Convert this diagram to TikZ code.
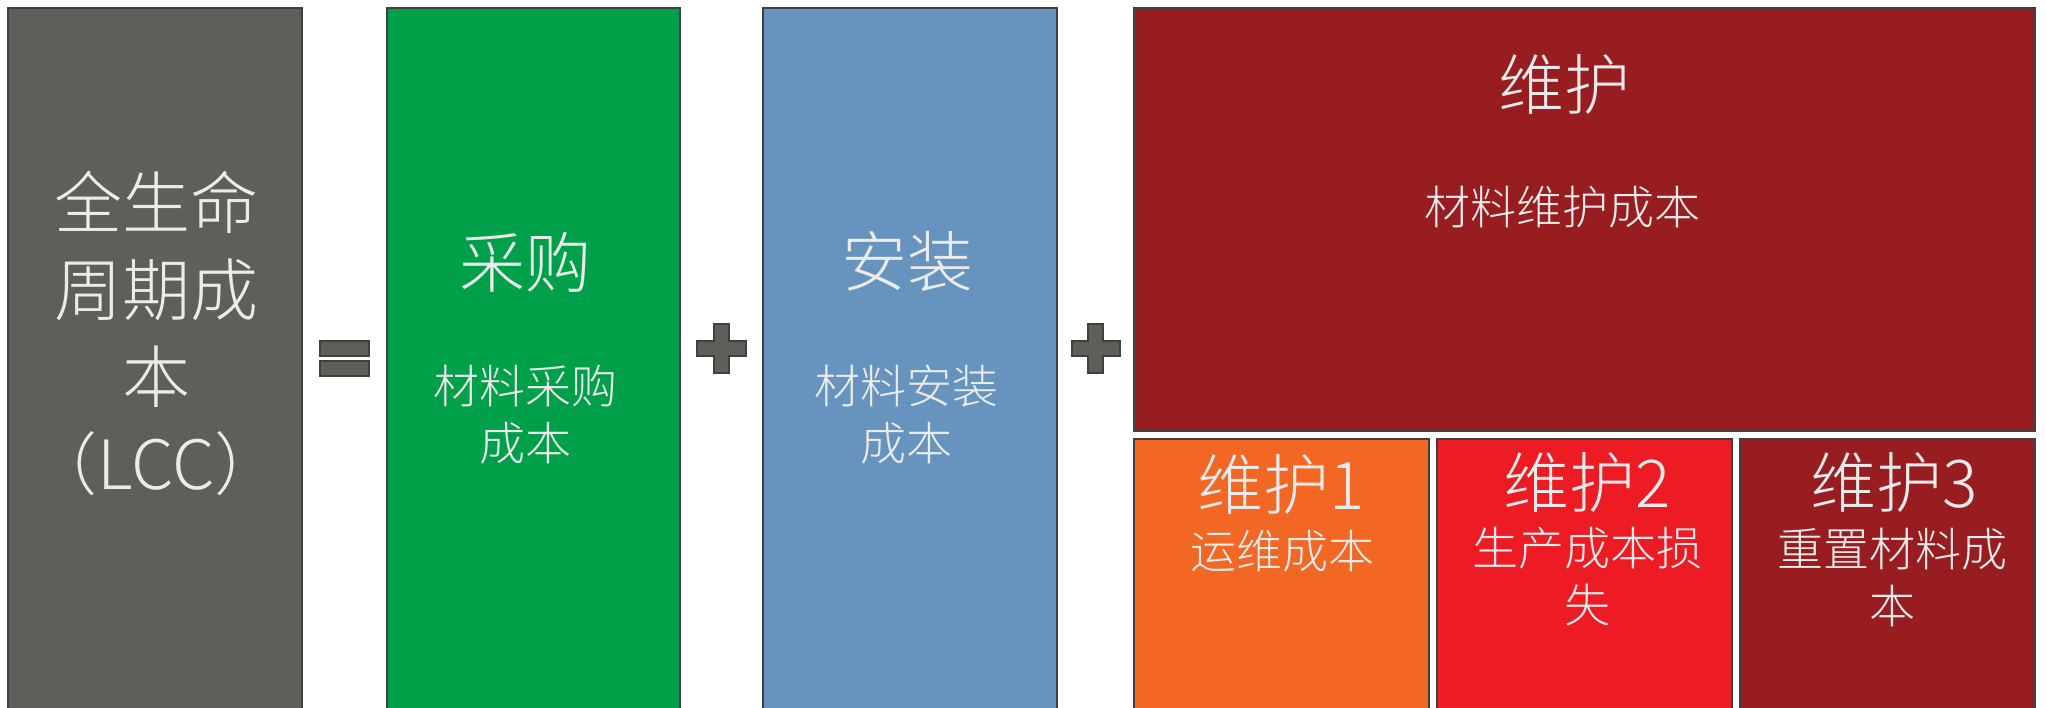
\documentclass[tikz,border=0pt]{standalone}
\usepackage{fontspec}
\IfFontExistsTF{Noto Sans CJK SC Light}{\setmainfont{Noto Sans CJK SC Light}}{\setmainfont{Noto Sans CJK SC}}
\definecolor{edge}{HTML}{404040}
\definecolor{cgray}{HTML}{5F5F5A}
\definecolor{cgreen}{HTML}{00A04B}
\definecolor{cblue}{HTML}{6794BE}
\definecolor{cdred}{HTML}{981D20}
\definecolor{corange}{HTML}{F26724}
\definecolor{cred}{HTML}{ED1C24}
\definecolor{ctext}{HTML}{EBEBEB}
\tikzset{
  box/.style={draw=edge, line width=2pt, inner sep=0pt, outer sep=0pt, anchor=north west},
  opbox/.style={draw=edge, line width=2pt, fill=cgray},
  txt/.style={text=ctext, inner sep=0pt, align=center},
  bigtxt/.style={txt, font=\fontsize{68}{87}\selectfont},
  titletxt/.style={txt, font=\fontsize{66}{80}\selectfont},
  subtxt/.style={txt, font=\fontsize{46}{57}\selectfont}
}
\begin{document}
\begin{tikzpicture}[x=1pt,y=-1pt]
\useasboundingbox (0,0) rectangle (2046,707);
\begin{scope}
\clip (0,0) rectangle (2046,707);
\node[box, fill=cgray, minimum width=294pt, minimum height=730pt] (lcc) at (8,8) {};
\node[box, fill=cgreen, minimum width=293pt, minimum height=730pt] (buy) at (387,8) {};
\node[box, fill=cblue, minimum width=294pt, minimum height=730pt] (inst) at (763,8) {};
\node[box, fill=cdred, minimum width=901pt, minimum height=423pt] (mnt) at (1134,8) {};
\node[box, fill=corange, minimum width=295pt, minimum height=300pt] (m1) at (1134,439) {};
\node[box, fill=cred, minimum width=295pt, minimum height=300pt] (m2) at (1437,439) {};
\node[box, fill=cdred, minimum width=295pt, minimum height=300pt] (m3) at (1740,439) {};
\end{scope}
% equals sign
\draw[opbox] (320,341) rectangle (369,356);
\draw[opbox] (320,361) rectangle (369,376);
% plus signs
\draw[opbox] (697,341) -- (714,341) -- (714,324) -- (729,324) -- (729,341) -- (746,341)
  -- (746,356) -- (729,356) -- (729,373) -- (714,373) -- (714,356) -- (697,356) -- cycle;
\draw[opbox] (1072,341) -- (1088,341) -- (1088,324) -- (1103,324) -- (1103,341) -- (1120,341)
  -- (1120,356) -- (1103,356) -- (1103,373) -- (1088,373) -- (1088,356) -- (1072,356) -- cycle;
% texts
\node[bigtxt] (tlcc) at (156,333) {全生命\\周期成\\本\\（LCC）};
\node[titletxt] (tbuy) at (525,262) {采购};
\node[subtxt] (sbuy) at (525,415) {材料采购\\成本};
\node[titletxt] (tinst) at (907,262) {安装};
\node[subtxt] (sinst) at (906,415) {材料安装\\成本};
\node[titletxt] (tmnt) at (1564,84) {维护};
\node[subtxt] (smnt) at (1562,207) {材料维护成本};
\node[titletxt] (tm1) at (1281,484) {维护1};
\node[subtxt] (sm1) at (1282,551) {运维成本};
\node[titletxt] (tm2) at (1587,482) {维护2};
\node[subtxt] (sm2) at (1587,577) {生产成本损\\失};
\node[titletxt] (tm3) at (1894,482) {维护3};
\node[subtxt] (sm3) at (1892,577) {重置材料成\\本};
\end{tikzpicture}
\end{document}
